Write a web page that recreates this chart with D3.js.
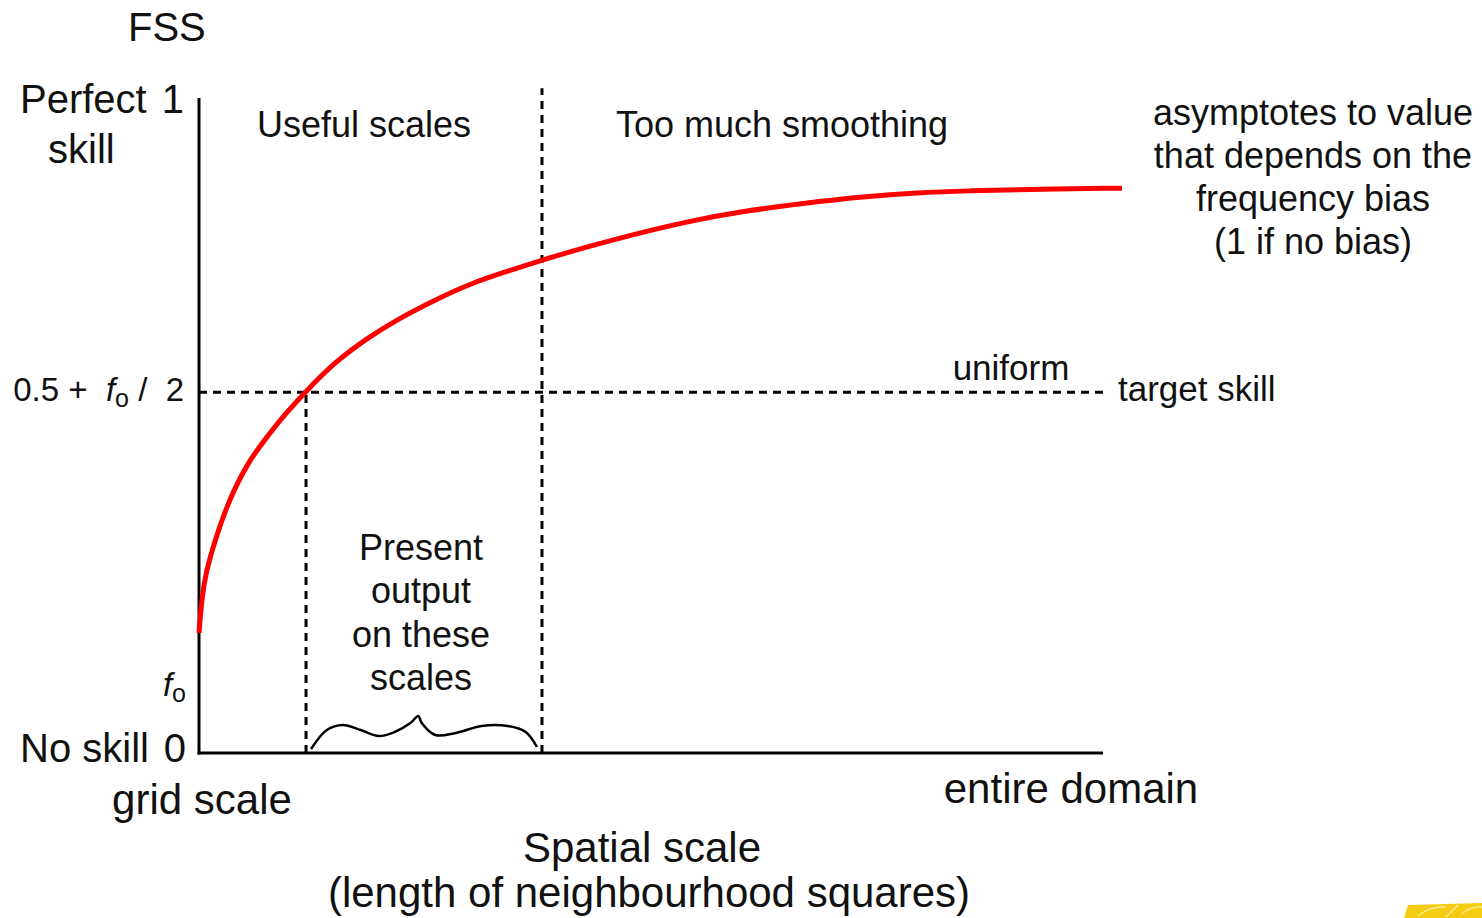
<!DOCTYPE html>
<html>
<head>
<meta charset="utf-8">
<script src="https://cdn.jsdelivr.net/npm/d3@7"></script>
<style>
  html, body { margin: 0; padding: 0; background: #fff; }
  svg { display: block; }
  text { font-family: "Liberation Sans", Arial, Helvetica, sans-serif; fill: #111; }
</style>
</head>
<body>
<div id="chart"></div>
<script>
// spatial scale (0 = grid scale, 100 = entire domain)
var spatialScale = [0, 0.33, 0.77, 1.77, 3.21, 5.42, 7.63, 9.51, 11.84, 15.04, 18.7, 21.68,
  26.11, 30.2, 34.18, 37.94, 43.14, 48.56, 54.42, 59.85, 66.92, 73.56, 79.42, 85.29, 91.04, 102.1];
var fssValues = [0.184, 0.239, 0.277, 0.326, 0.384, 0.446, 0.486, 0.519, 0.554, 0.599, 0.636, 0.662,
  0.694, 0.72, 0.738, 0.755, 0.776, 0.796, 0.815, 0.829, 0.842, 0.852, 0.858, 0.861, 0.863, 0.865];

var fo = 0.105;
var targetSkill = 0.5 + fo / 2;
var usefulScale = 11.84;     // where the curve meets the target skill
var smoothingScale = 37.94;  // start of "too much smoothing"
var presentLines = ['Present', 'output', 'on these', 'scales'];
var biasLines = ['asymptotes to value', 'that depends on the', 'frequency bias', '(1 if no bias)'];

var width = 1482, height = 918;

var svg = d3.select('#chart')
  .append('svg')
  .attr('width', width)
  .attr('height', height);

var x = d3.scaleLinear().domain([0, 100]).range([199, 1103]);
var y = d3.scaleLinear().domain([0, 1]).range([753, 100]);

var curve = spatialScale.map(function(d, i) { return [d, fssValues[i]]; });

// dashed guides
var dash = svg.append('g')
  .attr('stroke', '#000')
  .attr('stroke-width', 3)
  .attr('stroke-dasharray', '8,6')
  .attr('fill', 'none');

dash.append('line')
  .attr('x1', x(0)).attr('x2', x(100))
  .attr('y1', y(targetSkill)).attr('y2', y(targetSkill));
dash.append('line')
  .attr('x1', x(usefulScale)).attr('x2', x(usefulScale))
  .attr('y1', y(0)).attr('y2', y(targetSkill));
dash.append('line')
  .attr('x1', x(smoothingScale)).attr('x2', x(smoothingScale))
  .attr('y1', y(0)).attr('y2', y(1.018));

// axes
svg.append('line')
  .attr('x1', x(0)).attr('x2', x(0))
  .attr('y1', y(0) + 1.5).attr('y2', y(1.003))
  .attr('stroke', '#000').attr('stroke-width', 3);
svg.append('line')
  .attr('x1', x(0) - 1.5).attr('x2', x(100))
  .attr('y1', y(0)).attr('y2', y(0))
  .attr('stroke', '#000').attr('stroke-width', 3);

// FSS curve
var line = d3.line()
  .x(function(d) { return x(d[0]); })
  .y(function(d) { return y(d[1]); })
  .curve(d3.curveBasis);

svg.append('path')
  .datum(curve)
  .attr('d', line)
  .attr('fill', 'none')
  .attr('stroke', '#ff0000')
  .attr('stroke-width', 5);

// curly brace under "Present output ..."
var bx0 = x(usefulScale) + 5, bx1 = x(smoothingScale) - 5, bw = bx1 - bx0, by = y(0);
var braceShape = [[0, 4], [0.07, 23], [0.14, 28], [0.22, 23], [0.3, 17], [0.37, 21], [0.44, 30],
  [0.475, 37], [0.49, 30], [0.55, 18], [0.64, 20], [0.755, 27], [0.87, 27], [0.95, 21], [1, 6]];
svg.append('path')
  .datum(braceShape)
  .attr('d', d3.line()
    .x(function(d) { return bx0 + d[0] * bw; })
    .y(function(d) { return by - d[1]; })
    .curve(d3.curveCatmullRom))
  .attr('fill', 'none')
  .attr('stroke', '#000')
  .attr('stroke-width', 2.5);

// labels
function label(txt, px, py, size, anchor) {
  return svg.append('text')
    .attr('x', px).attr('y', py)
    .attr('font-size', size)
    .attr('text-anchor', anchor || 'start')
    .text(txt);
}

label('FSS', 128, 41, 40);
label('Perfect', 20, 113, 40);
label('1', 184, 113, 40, 'end');
label('skill', 48, 163, 40);
label('No skill', 20, 762, 40);
label('0', 186, 762, 40, 'end');
label('grid scale', 202, 814, 42, 'middle');
label('entire domain', 1071, 803, 42, 'middle');
label('Spatial scale', 642, 862, 42, 'middle');
label('(length of neighbourhood squares)', 649, 907, 42, 'middle');

label('Useful scales', 364, 137, 36, 'middle');
label('Too much smoothing', 782, 137, 36, 'middle');
label('uniform', 1011, 380, 35, 'middle');
label('target skill', 1118, 401, 35);

biasLines.forEach(function(t, i) {
  label(t, 1313, 125 + i * 43, 36, 'middle');
});
presentLines.forEach(function(t, i) {
  label(t, 421, 560 + i * 43.3, 36, 'middle');
});

// 0.5 + fo / 2
var tgt = svg.append('text')
  .attr('x', 184).attr('y', y(targetSkill) + 9)
  .attr('font-size', 33)
  .attr('text-anchor', 'end')
  .attr('xml:space', 'preserve');
tgt.append('tspan').text('0.5 +  ');
tgt.append('tspan').attr('font-style', 'italic').text('f');
tgt.append('tspan').attr('font-size', 25).attr('dy', 6).text('o');
tgt.append('tspan').attr('dy', -6).text(' /  2');

// fo
var fol = svg.append('text')
  .attr('x', 186).attr('y', y(fo) + 12)
  .attr('font-size', 33)
  .attr('text-anchor', 'end');
fol.append('tspan').attr('font-style', 'italic').text('f');
fol.append('tspan').attr('font-size', 25).attr('dy', 6).text('o');

// corner logo fragment
var logo = svg.append('g');
logo.append('path')
  .attr('d', 'M1404,918 L1408,905 L1482,903 L1482,918 Z')
  .attr('fill', '#f5cc12');
logo.append('path')
  .attr('d', 'M1418,916 Q1430,906 1446,907 M1446,917 L1458,905 M1462,914 Q1470,906 1482,907')
  .attr('fill', 'none')
  .attr('stroke', '#fbe98a')
  .attr('stroke-width', 1.5);
</script>
</body>
</html>
